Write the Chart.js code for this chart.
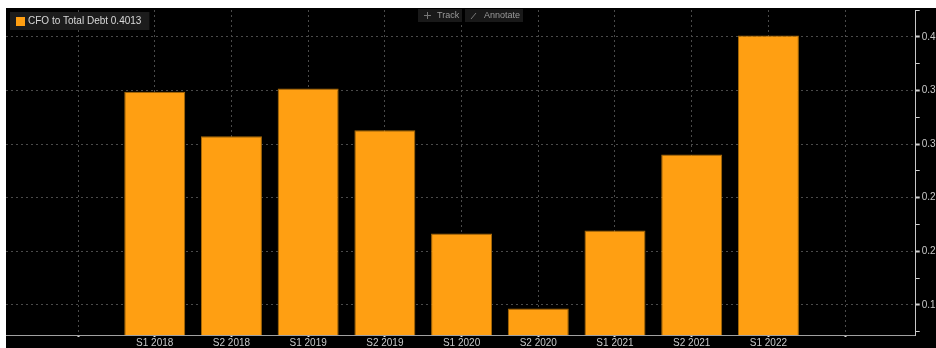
<!DOCTYPE html>
<html>
<head>
<meta charset="utf-8">
<script src="https://cdn.jsdelivr.net/npm/chart.js@4"></script>
<style>
    body { margin: 0; background: #ffffff; }
    #wrap { position: absolute; left: 6px; top: 8px; width: 930px; height: 340px; background: #000000; }
</style>
</head>
<body>
<div id="wrap"><canvas id="cfoChart"></canvas></div>
<script>
// Data
const seriesName = 'CFO to Total Debt';
const categories = ['S1 2018', 'S2 2018', 'S1 2019', 'S2 2019', 'S1 2020', 'S2 2020', 'S1 2021', 'S2 2021', 'S1 2022'];
const cfoToDebt = [0.3487, 0.3074, 0.3519, 0.3130, 0.2166, 0.1467, 0.2194, 0.2903, 0.4013];
const yTickValues = [0.15, 0.2, 0.25, 0.3, 0.35, 0.4];
const yTickLabels = ['0.1', '0.2', '0.2', '0.3', '0.3', '0.4'];

const Y_MIN = 0.122;
const Y_MAX = 0.425;

const colors = {
    bar: '#ff9f12',
    barBorder: '#a86a08',
    grid: '#4a4a4a',
    axis: '#a0a0a0',
    text: '#c8c8c8',
    boxBg: '#1c1c1c',
    buttonText: '#9a9a9a'
};
const font = { family: "'Liberation Sans', Arial, sans-serif", size: 10 };

function isMajor(v) {
    return yTickValues.some(t => Math.abs(t - v) < 1e-6);
}

// Legend box and the Track / Annotate buttons
const overlayPlugin = {
    id: 'overlay',
    afterDraw(chart) {
        const ctx = chart.ctx;
        const last = cfoToDebt[cfoToDebt.length - 1];
        const text = seriesName + ' ' + last.toFixed(4);
        ctx.save();
        ctx.font = '10px ' + font.family;
        ctx.textBaseline = 'middle';
        const w = ctx.measureText(text).width;
        ctx.fillStyle = colors.boxBg;
        ctx.fillRect(4, 4, w + 26, 18);
        ctx.fillStyle = colors.bar;
        ctx.fillRect(10, 9, 9, 9);
        ctx.fillStyle = '#d8d8d8';
        ctx.fillText(text, 22, 13.5);

        // buttons
        ctx.fillStyle = '#191919';
        ctx.fillRect(412, 1, 44, 13);
        ctx.fillRect(459, 1, 58, 13);
        ctx.strokeStyle = '#777777';
        ctx.lineWidth = 1;
        ctx.beginPath();
        ctx.moveTo(418, 7.5); ctx.lineTo(425, 7.5);
        ctx.moveTo(421.5, 4); ctx.lineTo(421.5, 11);
        ctx.moveTo(465, 11); ctx.lineTo(470, 5);
        ctx.stroke();
        ctx.fillStyle = colors.buttonText;
        ctx.font = '9px ' + font.family;
        ctx.fillText('Track', 431, 8);
        ctx.fillText('Annotate', 478, 8);
        ctx.restore();
    }
};

const ctx = document.getElementById('cfoChart').getContext('2d');

new Chart(ctx, {
    type: 'bar',
    data: {
        datasets: [{
            label: seriesName,
            data: categories.map((c, i) => ({ x: i + 1, y: cfoToDebt[i] })),
            backgroundColor: colors.bar,
            borderColor: colors.barBorder,
            borderWidth: 1,
            base: Y_MIN,
            barPercentage: 0.795,
            categoryPercentage: 1
        }]
    },
    options: {
        responsive: true,
        maintainAspectRatio: false,
        animation: false,
        layout: { padding: { top: 2, left: 0, right: 0, bottom: 0 } },
        plugins: {
            legend: { display: false },
            tooltip: { enabled: false }
        },
        scales: {
            x: {
                type: 'linear',
                bounds: 'data',
                min: -0.939,
                max: 10.92,
                offset: false,
                afterBuildTicks: scale => {
                    const ticks = [];
                    for (let i = 0; i <= categories.length + 1; i++) ticks.push({ value: i });
                    scale.ticks = ticks;
                },
                afterFit: scale => {
                    scale.height = 13;
                    scale.paddingLeft = 0;
                    scale.paddingRight = 0;
                },
                grid: {
                    offset: false,
                    color: colors.grid,
                    lineWidth: 1,
                    tickColor: '#e0e0e0',
                    tickLength: 2,
                    tickWidth: 2
                },
                border: { color: colors.axis, width: 1, dash: [2, 3] },
                ticks: {
                    autoSkip: false,
                    maxRotation: 0,
                    padding: 0,
                    color: colors.text,
                    font: font,
                    callback: v => categories[v - 1] || ''
                }
            },
            y: {
                position: 'right',
                bounds: 'data',
                min: Y_MIN,
                max: Y_MAX,
                afterBuildTicks: scale => {
                    const ticks = [];
                    yTickValues.forEach(v => {
                        ticks.push({ value: v });
                        ticks.push({ value: v - 0.025 });
                    });
                    ticks.push({ value: Y_MAX });
                    scale.ticks = ticks.sort((a, b) => a.value - b.value);
                },
                afterFit: scale => {
                    scale.width = 20.3;
                    scale.paddingTop = 0;
                    scale.paddingBottom = 0;
                },
                grid: {
                    color: c => (c.tick && isMajor(c.tick.value)) ? colors.grid : 'rgba(0,0,0,0)',
                    lineWidth: 1,
                    tickColor: '#d0d0d0',
                    tickLength: 4,
                    tickWidth: c => (c.tick && isMajor(c.tick.value)) ? 2 : 1
                },
                border: { color: '#c8c8c8', width: 1, dash: [2, 3] },
                ticks: {
                    autoSkip: false,
                    padding: 2,
                    color: colors.text,
                    font: font,
                    callback: v => {
                        const idx = yTickValues.findIndex(t => Math.abs(t - v) < 1e-6);
                        return idx >= 0 ? yTickLabels[idx] : '';
                    }
                }
            }
        }
    },
    plugins: [overlayPlugin]
});
</script>
</body>
</html>
